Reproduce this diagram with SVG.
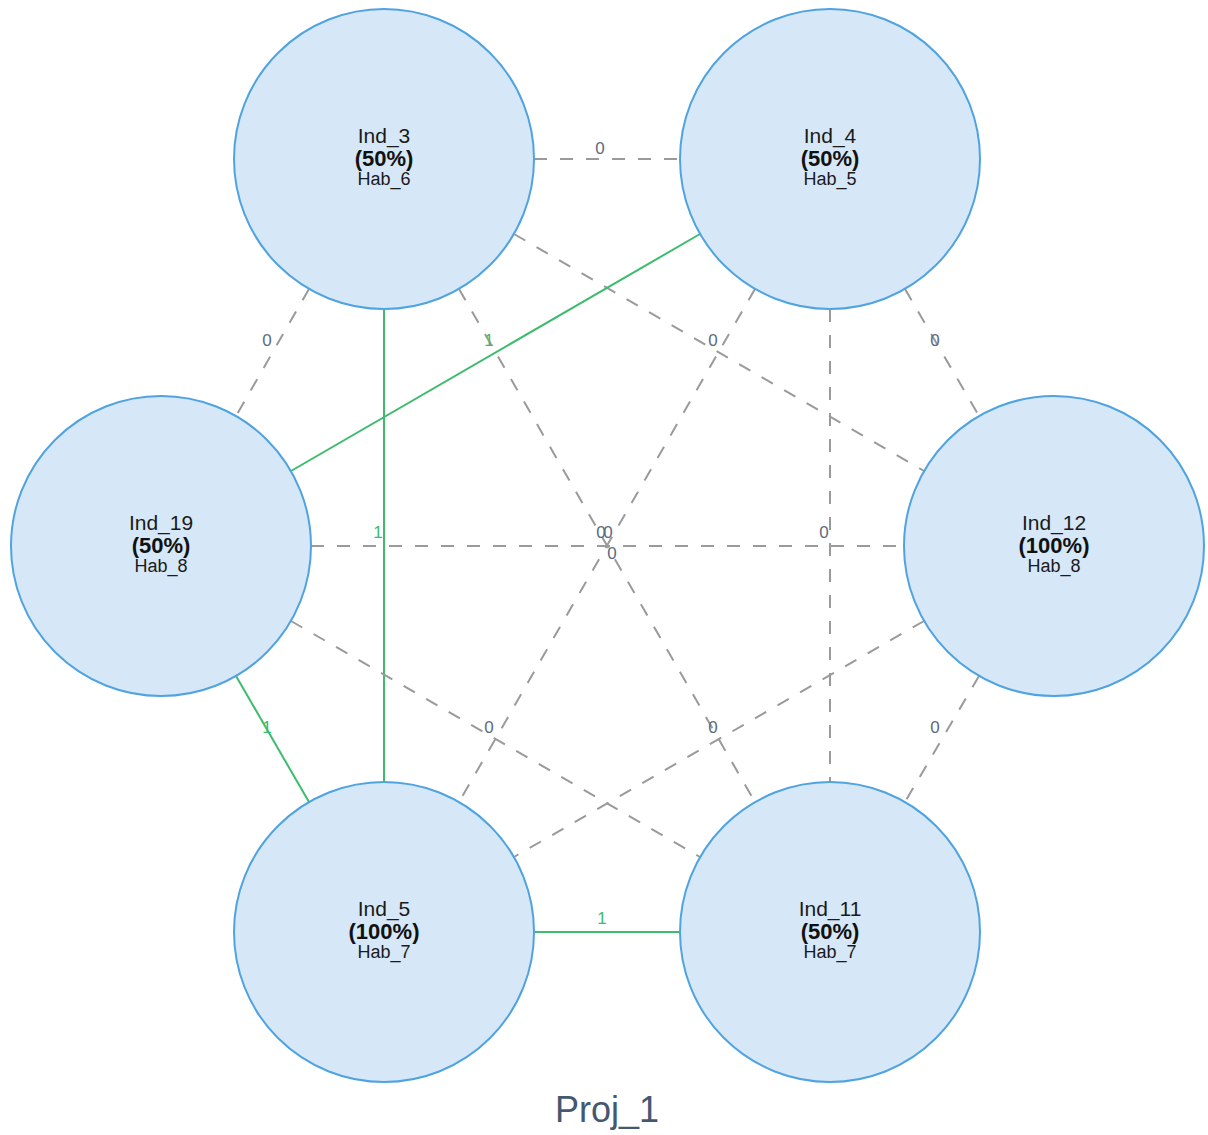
<svg xmlns="http://www.w3.org/2000/svg" width="1208" height="1135" viewBox="0 0 1208 1135">
<style>
.e{stroke-width:2;fill:none}
.d{stroke:#9a9a9a;stroke-dasharray:13 13}
.g{stroke:#3dbc6d}
.n circle{fill:#d6e8f7;stroke:#4fa3e1;stroke-width:2}
.t1{font-family:"Liberation Sans",Arial,sans-serif;font-size:21px;fill:#1a1a1a;text-anchor:middle}
.t2{font-family:"Liberation Sans",Arial,sans-serif;font-size:22px;font-weight:bold;fill:#111;text-anchor:middle}
.t3{font-family:"Liberation Sans",Arial,sans-serif;font-size:18px;fill:#1a1a1a;text-anchor:middle}
.l0{font-family:"Liberation Sans",Arial,sans-serif;font-size:17px;fill:#5b6b80;text-anchor:middle}
.l1{font-family:"Liberation Sans",Arial,sans-serif;font-size:17px;fill:#3dbc6d;text-anchor:middle}
.title{font-family:"Liberation Sans",Arial,sans-serif;font-size:36px;fill:#44586f;text-anchor:middle}
</style>
<rect width="1208" height="1135" fill="#ffffff"/>
<g id="connectors">
<line class="e d" x1="534" y1="159" x2="680" y2="159"/>
<line class="e d" x1="309" y1="289" x2="236" y2="416"/>
<line class="e d" x1="514" y1="234" x2="924" y2="471"/>
<line class="e g" x1="384" y1="309" x2="384" y2="782"/>
<line class="e d" x1="459" y1="289" x2="755" y2="802"/>
<line class="e g" x1="700" y1="234" x2="291" y2="471"/>
<line class="e d" x1="905" y1="289" x2="979" y2="416"/>
<line class="e d" x1="755" y1="289" x2="459" y2="802"/>
<line class="e d" x1="830" y1="309" x2="830" y2="782"/>
<line class="e d" x1="311" y1="546" x2="904" y2="546"/>
<line class="e g" x1="236" y1="676" x2="309" y2="802"/>
<line class="e d" x1="291" y1="621" x2="700" y2="857"/>
<line class="e d" x1="924" y1="621" x2="514" y2="857"/>
<line class="e d" x1="979" y1="676" x2="905" y2="802"/>
<line class="e g" x1="534" y1="932" x2="680" y2="932"/>
<text class="l0" x="600" y="154">0</text>
<text class="l0" x="267" y="346">0</text>
<text class="l1" x="489" y="346">1</text>
<text class="l0" x="713" y="346">0</text>
<text class="l0" x="935" y="346">0</text>
<text class="l1" x="378" y="538">1</text>
<text class="l0" x="601" y="538">0</text>
<text class="l0" x="608" y="538">0</text>
<text class="l0" x="612" y="559">0</text>
<text class="l0" x="824" y="538">0</text>
<text class="l1" x="267" y="733">1</text>
<text class="l0" x="489" y="733">0</text>
<text class="l0" x="713" y="733">0</text>
<text class="l0" x="935" y="733">0</text>
<text class="l1" x="602" y="924">1</text>
</g>
<g id="ind3" class="n"><circle cx="384" cy="159" r="150"/><text class="t1" x="384" y="143">Ind_3</text><text class="t2" x="384" y="166">(50%)</text><text class="t3" x="384" y="185">Hab_6</text></g>
<g id="ind4" class="n"><circle cx="830" cy="159" r="150"/><text class="t1" x="830" y="143">Ind_4</text><text class="t2" x="830" y="166">(50%)</text><text class="t3" x="830" y="185">Hab_5</text></g>
<g id="ind19" class="n"><circle cx="161" cy="546" r="150"/><text class="t1" x="161" y="530">Ind_19</text><text class="t2" x="161" y="553">(50%)</text><text class="t3" x="161" y="572">Hab_8</text></g>
<g id="ind12" class="n"><circle cx="1054" cy="546" r="150"/><text class="t1" x="1054" y="530">Ind_12</text><text class="t2" x="1054" y="553">(100%)</text><text class="t3" x="1054" y="572">Hab_8</text></g>
<g id="ind5" class="n"><circle cx="384" cy="932" r="150"/><text class="t1" x="384" y="916">Ind_5</text><text class="t2" x="384" y="939">(100%)</text><text class="t3" x="384" y="958">Hab_7</text></g>
<g id="ind11" class="n"><circle cx="830" cy="932" r="150"/><text class="t1" x="830" y="916">Ind_11</text><text class="t2" x="830" y="939">(50%)</text><text class="t3" x="830" y="958">Hab_7</text></g>
<text class="title" x="607" y="1122">Proj_1</text>
</svg>
